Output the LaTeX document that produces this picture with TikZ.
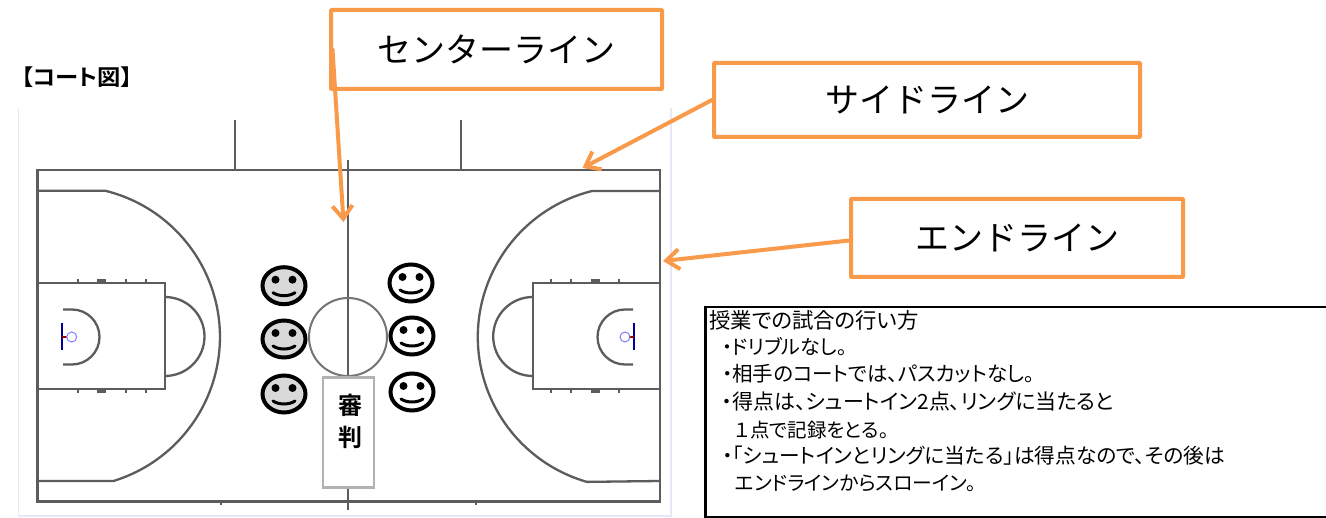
\documentclass[tikz,border=0pt]{standalone}
\usepackage{fontspec}
\setmainfont{Noto Sans CJK JP}
\newfontfamily\palt[RawFeature=+palt]{Noto Sans CJK JP}
\newfontfamily\paltb[RawFeature=+palt]{Noto Sans CJK JP Bold}
\usetikzlibrary{arrows.meta}
\definecolor{orangeline}{HTML}{F99A4B}
\definecolor{courtline}{HTML}{5C5C5C}
\definecolor{frameline}{HTML}{E8E8F6}
\definecolor{facegray}{HTML}{D9D9D9}
\tikzset{
  callout/.style={draw=orangeline,line width=4pt,fill=white,rounded corners=0.6pt,minimum width=#1,font=\fontsize{34}{34}\selectfont,text=black,inner sep=0pt},
  pointer/.style={draw=orangeline,line width=4pt,line cap=round,-{Straight Barb[length=13pt,width=20pt,line width=4pt]}},
  court/.style={draw=courtline,line width=2.3pt},
  courtthin/.style={draw=courtline,line width=2pt},
  rule/.style={anchor=base west,inner sep=0pt,font=\palt\fontsize{#1}{20}\selectfont,text=black},
  smiley/.pic={
    \draw[line width=4pt,fill=#1] (0,0) ellipse [x radius=21.5pt,y radius=18.5pt];
    \fill (-8.5,-6) circle [radius=4pt];
    \fill (8.5,-6) circle [radius=4pt];
    \draw[line width=3pt,line cap=round] (-11,7) .. controls (-5,11) and (5,11) .. (11,7);
  }
}
\begin{document}
\begin{tikzpicture}[x=1pt,y=-1pt]
\useasboundingbox (0,0) rectangle (1326,518);
\fill[white] (0,0) rectangle (1326,518);
% faint frame
\draw[frameline,line width=1.6pt] (18.5,108) -- (18.5,515.7) -- (670.7,515.7) -- (670.7,108);
% court
\draw[court] (37.5,170) rectangle (659.7,501.5);
\draw[courtthin] (235,120) -- (235,170);
\draw[courtthin] (461,120) -- (461,170);
\draw[courtthin] (348,160) -- (348,510);
\draw[courtthin,draw=courtline!85] (348,337) circle [radius=39pt];
\draw[courtthin] (221,501.5) -- (221,505);
\draw[courtthin] (476,501.5) -- (476,505);
% left half
\draw[court] (37.5,190.7) -- (105,190.7) arc [start angle=76.3,end angle=-73,radius=150.6pt] -- (37.5,481);
\draw[court] (37.5,283) rectangle (165,389);
\draw[court] (165,297) arc [start angle=90,end angle=-90,radius=39.5pt];
\draw[court] (63,309.5) -- (72,309.5) arc [start angle=90,end angle=-90,radius=27.5pt] -- (63,364.5);
\foreach \xx in {78,126,146}{\draw[courtthin] (\xx,279) -- (\xx,283); \draw[courtthin] (\xx,389) -- (\xx,393);}
\fill[courtline] (97,279) rectangle (106,283);
\fill[courtline] (97,389) rectangle (106,393);
\draw[draw=blue!60!black,line width=2pt] (61.5,323) -- (61.5,350);
\draw[draw=red!60!black,line width=1.2pt] (61.5,337) -- (67,337);
\draw[draw=blue!50!white,line width=1pt] (71.7,337) circle [radius=5pt];
% right half
\draw[court] (659.7,191) -- (592,191) arc [start angle=104,end angle=254,radius=150.6pt] -- (659.7,481);
\draw[court] (532.7,283) rectangle (659.7,389);
\draw[court] (532.7,297) arc [start angle=90,end angle=270,radius=39.5pt];
\draw[court] (633,309.5) -- (625,309.5) arc [start angle=90,end angle=270,radius=27.5pt] -- (633,364.5);
\foreach \xx in {551,571,619}{\draw[courtthin] (\xx,279) -- (\xx,283); \draw[courtthin] (\xx,389) -- (\xx,393);}
\fill[courtline] (591,279) rectangle (600,283);
\fill[courtline] (591,389) rectangle (600,393);
\draw[draw=blue!60!black,line width=2pt] (633.7,323) -- (633.7,350);
\draw[draw=red!60!black,line width=1.2pt] (633.7,337) -- (629,337);
\draw[draw=blue!50!white,line width=1pt] (625,337) circle [radius=5pt];
% referee
\node[draw=black!30,line width=2.5pt,fill=white,minimum width=51pt,minimum height=110pt,inner sep=0pt] (referee) at (348.5,432.7) {};
\node[inner sep=0pt,font=\paltb\fontsize{24}{24}\selectfont] (shin) at (350,405) {審};
\node[inner sep=0pt,font=\paltb\fontsize{24}{24}\selectfont] (han) at (350,437) {判};
% players
\pic at (284,285.7) {smiley=facegray};
\pic at (284,339) {smiley=facegray};
\pic at (284,394) {smiley=facegray};
\pic at (411,283) {smiley=white};
\pic at (412,336) {smiley=white};
\pic at (412,392) {smiley=white};
% title
\node[inner sep=0pt,xscale=1.06,font=\paltb\fontsize{22}{22}\selectfont] (title) at (77,77) {【コート図】};
% callouts
\node[callout=331pt,minimum height=79pt] (center) at (496.5,49.5) {センターライン};
\node[callout=426pt,minimum height=74pt] (side) at (927,100) {サイドライン};
\node[callout=332pt,minimum height=78pt] (endl) at (1017,238) {エンドライン};
\coordinate (centertip) at (343.5,222);
\coordinate (sidetip) at (582.5,168);
\coordinate (endtip) at (663,261);
\draw[pointer] ([xshift=3.5pt]center.west) -- (centertip);
\draw[pointer] (side.west) -- (sidetip);
\draw[pointer] ([yshift=-2.5pt]endl.west) -- (endtip);
% rules box
\draw[black,line width=2.2pt] (1326,307) -- (705.5,307) -- (705.5,517) -- (1326,517);
\node[rule=21.4] (r1) at (709,329) {授業での試合の行い方};
\node[rule=20] (r2) at (722,355) {・ドリブルなし。};
\node[rule=20.5] (r3) at (722,382) {・相手のコートでは、パスカットなし。};
\node[rule=21] (r4) at (722,410) {・得点は、シュートイン2点、リングに当たると};
\node[rule=19.5] (r5) at (735,438) {１点で記録をとる。};
\node[rule=20.7] (r6) at (722,464) {・「シュートインとリングに当たる」は得点なので、その後は};
\node[rule=19.8] (r7) at (735,490) {エンドラインからスローイン。};
\end{tikzpicture}
\end{document}
